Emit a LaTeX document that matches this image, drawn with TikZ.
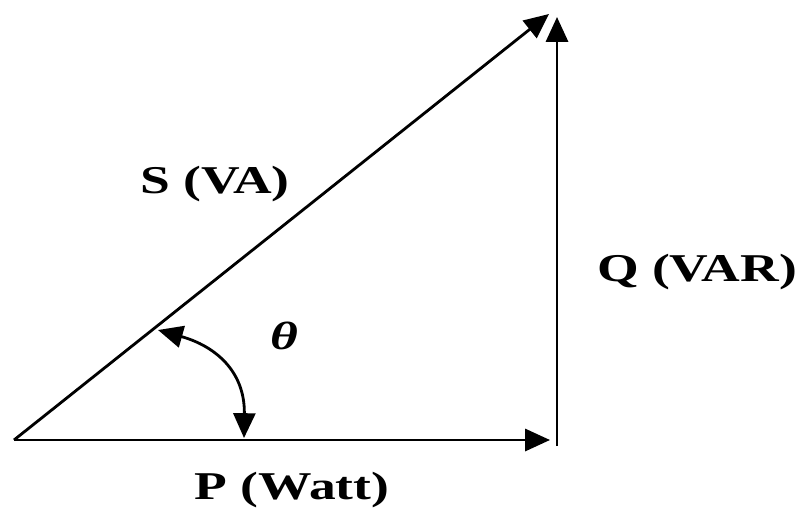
\documentclass[tikz,border=0pt]{standalone}
\usepackage{graphicx}
\usepackage{fontspec}
\setmainfont{Liberation Serif}
\usetikzlibrary{arrows.meta}

\newcommand{\widetext}[1]{\scalebox{1.36}[1]{#1}}

\tikzset{
  vec/.style={line width=2pt,-{Triangle[length=0.62cm,width=0.55cm]}},
  lbl/.style={font=\fontsize{28}{30}\selectfont\bfseries}
}

\begin{document}
\begin{tikzpicture}[x=0.025cm,y=0.025cm]
    \useasboundingbox (0,0) rectangle (800,516);
    % triangle corners
    \coordinate (O) at (14,76);
    \coordinate (P) at (550,76);
    \coordinate (Qb) at (557,70);
    \coordinate (Q) at (557,499);
    \coordinate (S) at (549,502);
    \draw[vec] (O) -- (P);
    \draw[vec] (Qb) -- (Q);
    \draw[vec] (O) -- (S);
    % angle
    \coordinate (a1) at (158,186);
    \coordinate (a2) at (244,78);
    \draw[line width=2pt,{Triangle[length=0.62cm,width=0.55cm]}-{Triangle[length=0.62cm,width=0.55cm]}]
      (a1) .. controls (215,170) and (245,145) .. (a2);
    \node[lbl] (th) at (284,180) {\widetext{\itshape θ}};
    \node[lbl] (Slbl) at (215,332) {\widetext{S (VA)}};
    \node[lbl] (Qlbl) at (697,244) {\widetext{Q (VAR)}};
    \node[lbl] (Plbl) at (292,26) {\widetext{P (Watt)}};
  \end{tikzpicture}
\end{document}
